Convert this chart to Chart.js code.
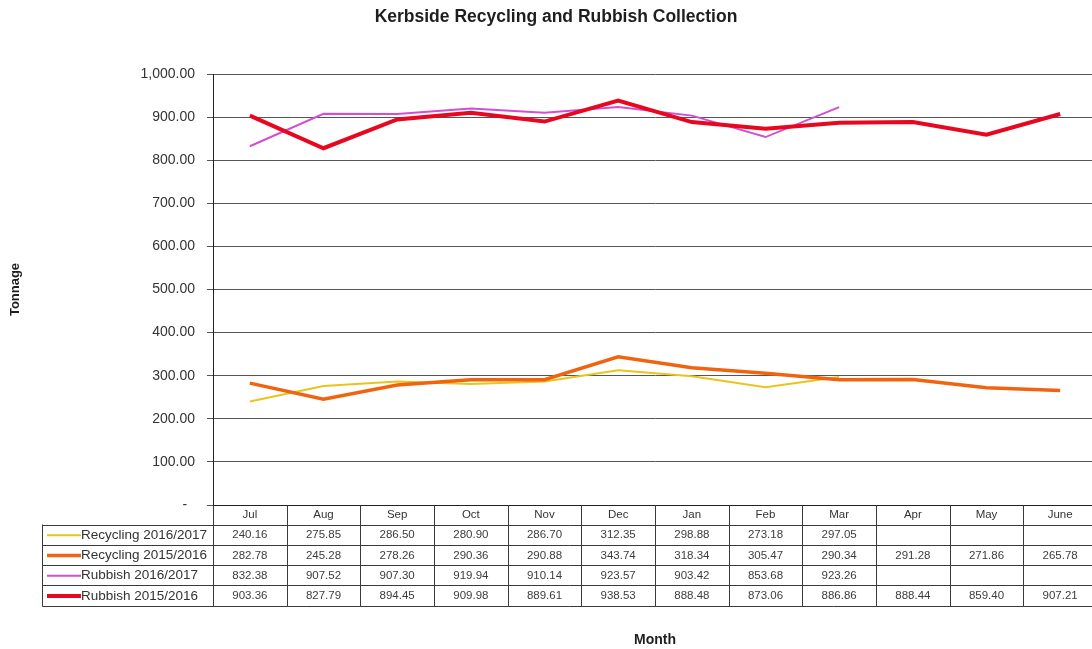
<!DOCTYPE html>
<html>
<head>
<meta charset="utf-8">
<title>Kerbside Recycling and Rubbish Collection</title>
<script src="https://cdn.jsdelivr.net/npm/chart.js@4.4.0/dist/chart.umd.min.js"></script>
<style>
  html, body { margin: 0; padding: 0; background: #ffffff; overflow: hidden; }
  #wrap { width: 1100px; height: 649px; }
</style>
</head>
<body>
<div id="wrap"><canvas id="c" width="1100" height="649"></canvas></div>
<script>
// Monthly tonnages, July to June
const months = ['Jul', 'Aug', 'Sep', 'Oct', 'Nov', 'Dec', 'Jan', 'Feb', 'Mar', 'Apr', 'May', 'June'];
const recycling1617 = [240.16, 275.85, 286.50, 280.90, 286.70, 312.35, 298.88, 273.18, 297.05, null, null, null];
const recycling1516 = [282.78, 245.28, 278.26, 290.36, 290.88, 343.74, 318.34, 305.47, 290.34, 291.28, 271.86, 265.78];
const rubbish1617 = [832.38, 907.52, 907.30, 919.94, 910.14, 923.57, 903.42, 853.68, 923.26, null, null, null];
const rubbish1516 = [903.36, 827.79, 894.45, 909.98, 889.61, 938.53, 888.48, 873.06, 886.86, 888.44, 859.40, 907.21];
const seriesNames = ['Recycling 2016/2017', 'Recycling 2015/2016', 'Rubbish 2016/2017', 'Rubbish 2015/2016'];

const chartTitle = 'Kerbside Recycling and Rubbish Collection';
const FONT = '"Liberation Sans", Arial, sans-serif';

const seriesStyle = [
  { color: '#e9c51c', width: 2 },
  { color: '#f0640f', width: 3.5 },
  { color: '#d24fd2', width: 2 },
  { color: '#e8071f', width: 4 }
];

const seriesData = [recycling1617, recycling1516, rubbish1617, rubbish1516];

function fmtTonnes(v) {
  return v.toLocaleString('en-US', { minimumFractionDigits: 2, maximumFractionDigits: 2 });
}

// Title plus the data table under the plot: month header, legend keys and values
const tablePlugin = {
  id: 'dataTable',
  afterDraw(chart) {
    const ctx = chart.ctx;
    const xs = chart.scales.x;
    const area = chart.chartArea;
    const n = months.length;
    const colW = (xs.right - xs.left) / n;
    const top = Math.round(area.bottom) + 0.5;
    const headerBottom = 524.5;
    const rowH = 20.3;
    const tableLeft = 42.5;
    const bottom = headerBottom + rowH * seriesData.length;

    ctx.save();

    // chart title
    ctx.fillStyle = '#1e1e1e';
    ctx.font = 'bold 17.5px ' + FONT;
    ctx.textAlign = 'center';
    ctx.textBaseline = 'middle';
    ctx.fillText(chartTitle, 556, 17);

    // grid of the table
    ctx.strokeStyle = '#3a3a3a';
    ctx.lineWidth = 1;
    ctx.beginPath();
    for (let r = 0; r <= seriesData.length; r++) {
      const y = Math.round(headerBottom + rowH * r) + 0.5;
      ctx.moveTo(tableLeft, y);
      ctx.lineTo(xs.right, y);
    }
    ctx.moveTo(tableLeft, headerBottom);
    ctx.lineTo(tableLeft, Math.round(bottom) + 0.5);
    for (let i = 0; i <= n; i++) {
      const x = Math.round(xs.getPixelForValue(Math.min(i, n - 1)) + (i === n ? colW / 2 : -colW / 2)) + 0.5;
      ctx.moveTo(x, top);
      ctx.lineTo(x, Math.round(bottom) + 0.5);
    }
    ctx.stroke();

    // legend keys and values
    seriesData.forEach((vals, r) => {
      const cy = headerBottom + rowH * r + rowH / 2 + 0.5;
      const st = seriesStyle[r];
      ctx.strokeStyle = st.color;
      ctx.lineWidth = st.width;
      ctx.beginPath();
      ctx.moveTo(47, cy);
      ctx.lineTo(81, cy);
      ctx.stroke();

      ctx.fillStyle = '#333333';
      ctx.font = '13.5px ' + FONT;
      ctx.textAlign = 'left';
      ctx.textBaseline = 'middle';
      ctx.fillText(seriesNames[r], 81, cy);

      ctx.font = '11.5px ' + FONT;
      ctx.textAlign = 'center';
      ctx.fillStyle = '#3c3c3c';
      vals.forEach((v, i) => {
        if (v === null) return;
        ctx.fillText(v.toFixed(2), xs.getPixelForValue(i), cy);
      });
    });

    ctx.restore();
  }
};

new Chart(document.getElementById('c'), {
  type: 'line',
  data: {
    labels: months,
    datasets: seriesData.map((vals, i) => ({
      label: seriesNames[i],
      data: vals,
      borderColor: seriesStyle[i].color,
      backgroundColor: seriesStyle[i].color,
      borderWidth: seriesStyle[i].width,
      pointRadius: 0,
      pointHoverRadius: 0,
      tension: 0,
      fill: false,
      spanGaps: false,
      order: seriesData.length - i
    }))
  },
  options: {
    responsive: false,
    animation: false,
    devicePixelRatio: 1,
    layout: { padding: { top: 74, right: 3, bottom: 0, left: 0 } },
    plugins: {
      legend: { display: false },
      title: { display: false },
      tooltip: { enabled: false }
    },
    scales: {
      x: {
        type: 'category',
        offset: true,
        grid: { display: false, drawTicks: false },
        border: { display: true, color: '#222222', width: 1 },
        ticks: {
          padding: 3,
          color: '#333333',
          font: { family: FONT, size: 11.5 },
          maxRotation: 0,
          autoSkip: false
        },
        title: {
          display: true,
          text: 'Month',
          color: '#1e1e1e',
          font: { family: FONT, size: 14, weight: 'bold' },
          padding: { top: 0, bottom: 0 }
        },
        afterFit(scale) { scale.height = 144; }
      },
      y: {
        min: 0,
        max: 1000,
        ticks: {
          stepSize: 100,
          padding: 12,
          color: '#333333',
          font: { family: FONT, size: 14 },
          callback: (v) => (v === 0 ? '-  ' : fmtTonnes(v))
        },
        grid: { color: '#555555', lineWidth: 1, tickLength: 6, drawTicks: true },
        border: { display: true, color: '#222222', width: 1 },
        title: {
          display: true,
          text: 'Tonnage',
          color: '#1e1e1e',
          font: { family: FONT, size: 13, weight: 'bold' },
          padding: { top: 8, bottom: 0 }
        },
        afterFit(scale) { scale.width = 213; }
      }
    }
  },
  plugins: [tablePlugin]
});
</script>
</body>
</html>
